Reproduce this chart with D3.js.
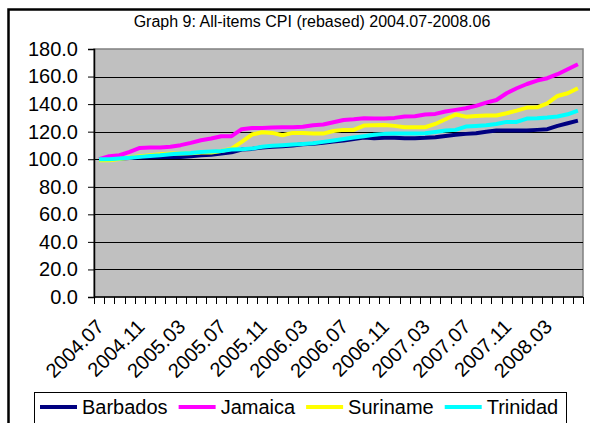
<!DOCTYPE html>
<html>
<head>
<meta charset="utf-8">
<script src="https://cdn.jsdelivr.net/npm/d3@7"></script>
<style>
  html, body { margin: 0; padding: 0; background: #fff; }
  svg { display: block; font-family: "Liberation Sans", Arial, sans-serif; }
</style>
</head>
<body>
<div id="chart"></div>
<script>
// months 2004.07 .. 2008.06
const months = [];
for (let y = 2004, m = 7; months.length < 48; m++) {
    if (m > 12) { m = 1; y++; }
    months.push(y + '.' + String(m).padStart(2, '0'));
}

const yTicks = [0, 20, 40, 60, 80, 100, 120, 140, 160, 180];

const barbados = [100, 100.2, 100.5, 100.8, 101.2, 101.4, 101.6, 101.8, 101.7, 102.2,
    102.9, 103.3, 104.1, 105, 107, 107.5, 108.5, 109, 109.5, 110,
    110.9, 111.2, 112, 112.9, 113.5, 114.7, 115.7, 115.2, 115.5, 115.5,
    115.2, 115.2, 115.5, 116, 116.9, 117.7, 118.4, 118.9, 120, 120.8,
    120.8, 120.8, 120.8, 121.3, 121.8, 124.2, 126.1, 128];
const jamaica = [100, 102.2, 102.9, 105.3, 108.2, 108.5, 108.5, 109, 110.2, 111.9,
    113.8, 115, 116.7, 116.7, 121.8, 122.7, 122.7, 123, 123.2, 123.2,
    123.5, 124.7, 125.2, 126.8, 128.5, 129, 129.7, 129.5, 129.5, 130,
    131, 131.2, 132.4, 132.9, 134.6, 135.8, 137, 138.7, 141.1, 143,
    147.9, 151.5, 154.6, 157.1, 158.8, 161.7, 165.3, 168.9];
const suriname = [99.3, 99.3, 100.2, 101.2, 102.2, 102.9, 103.6, 104.1, 104.1, 104.4,
    104.8, 104.8, 106, 107.7, 112.6, 117.9, 119.6, 119.1, 117.4, 119.1,
    119.1, 118.6, 118.6, 120.5, 121.3, 121.3, 124.4, 124.7, 124.9, 124.2,
    123.2, 123.2, 123.2, 125.6, 129, 132.4, 130.9, 131.4, 131.7, 131.7,
    133.4, 135.3, 137.5, 137.7, 140.6, 145.9, 147.9, 151.5];
const trinidad = [100, 100, 100.5, 101, 101.7, 102.4, 102.9, 103.6, 104.1, 104.6,
    105.3, 105.6, 106, 107, 107.3, 107.7, 109, 109.7, 110.2, 110.6,
    111.1, 111.6, 112.6, 113.6, 114.7, 115.7, 116.7, 117.7, 118.4, 118.6,
    118.6, 118.6, 118.9, 119.8, 120.8, 121.3, 123.7, 124.2, 124.7, 125.6,
    127.1, 127.1, 129.5, 129.7, 130.2, 131, 132.6, 135.3];

const series = [
    { name: 'Barbados', values: barbados, color: '#000080' },
    { name: 'Jamaica', values: jamaica, color: '#FF00FF' },
    { name: 'Suriname', values: suriname, color: '#FFFF00' },
    { name: 'Trinidad', values: trinidad, color: '#00FFFF' }
];

const width = 590, height = 423;
const plot = { left: 94, top: 49, right: 583, bottom: 297 };

const svg = d3.select('#chart').append('svg')
    .attr('width', width)
    .attr('height', height);

svg.append('rect').attr('width', width).attr('height', height).attr('fill', '#fff');

// outer chart border (runs off the right and bottom)
svg.append('rect')
    .attr('x', 8.5).attr('y', 9.5)
    .attr('width', 600).attr('height', 430)
    .attr('fill', 'none')
    .attr('stroke', '#000')
    .attr('stroke-width', 2.5);

svg.append('text')
    .attr('x', 312)
    .attr('y', 27)
    .attr('text-anchor', 'middle')
    .style('font-size', '16px')
    .text('Graph 9: All-items CPI (rebased) 2004.07-2008.06');

const x = d3.scaleBand()
    .domain(months)
    .range([plot.left, plot.right]);

const y = d3.scaleLinear()
    .domain([0, 180])
    .range([plot.bottom, plot.top]);

// plot area
svg.append('rect')
    .attr('x', plot.left).attr('y', plot.top)
    .attr('width', plot.right - plot.left)
    .attr('height', plot.bottom - plot.top)
    .attr('fill', '#C0C0C0')
    .attr('stroke', '#808080')
    .attr('stroke-width', 1.5);

// gridlines
svg.append('g')
    .selectAll('line')
    .data(yTicks.filter(d => d > 0 && d < 180))
    .enter()
    .append('line')
    .attr('x1', plot.left).attr('x2', plot.right)
    .attr('y1', d => Math.round(y(d)) + 0.5)
    .attr('y2', d => Math.round(y(d)) + 0.5)
    .attr('stroke', '#000')
    .attr('stroke-width', 1);

// y axis
const yAxis = svg.append('g')
    .attr('transform', `translate(${plot.left},0)`)
    .call(d3.axisLeft(y).tickValues(yTicks).tickSize(6).tickPadding(10).tickFormat(d3.format('.1f')));
yAxis.select('.domain').attr('stroke', '#000').attr('stroke-width', 1.5);
yAxis.selectAll('.tick line').attr('stroke', '#000');
yAxis.selectAll('text')
    .style('font-size', '20px')
    .style('font-family', '"Liberation Sans", Arial, sans-serif')
    .attr('fill', '#000');

// x axis: ticks between categories
const xAxisG = svg.append('g');
xAxisG.append('line')
    .attr('x1', plot.left).attr('x2', plot.right)
    .attr('y1', plot.bottom).attr('y2', plot.bottom)
    .attr('stroke', '#000').attr('stroke-width', 1.5);
xAxisG.selectAll('.xtick')
    .data(months.concat(['end']))
    .enter()
    .append('line')
    .attr('class', 'xtick')
    .attr('x1', (d, i) => Math.round(plot.left + i * x.bandwidth()) + 0.5)
    .attr('x2', (d, i) => Math.round(plot.left + i * x.bandwidth()) + 0.5)
    .attr('y1', plot.bottom)
    .attr('y2', plot.bottom + 7)
    .attr('stroke', '#000');

xAxisG.selectAll('.xlabel')
    .data(months.filter((d, i) => i % 4 === 0))
    .enter()
    .append('text')
    .attr('class', 'xlabel')
    .attr('text-anchor', 'end')
    .attr('transform', d => `translate(${x(d) + x.bandwidth() / 2 + 6},${plot.bottom + 31}) rotate(-45)`)
    .style('font-size', '20px')
    .text(d => d);

// lines
const line = d3.line()
    .x((d, i) => x(months[i]) + x.bandwidth() / 2)
    .y(d => y(d));

svg.append('g')
    .selectAll('path')
    .data(series)
    .enter()
    .append('path')
    .attr('fill', 'none')
    .attr('stroke', d => d.color)
    .attr('stroke-width', 4)
    .attr('stroke-linejoin', 'round')
    .attr('d', d => line(d.values));

// legend
const legend = svg.append('g');
legend.append('rect')
    .attr('x', 34.5).attr('y', 392.5)
    .attr('width', 532).attr('height', 40)
    .attr('fill', '#fff')
    .attr('stroke', '#000')
    .attr('stroke-width', 1);

let lx = 40;
series.forEach(s => {
    legend.append('line')
        .attr('x1', lx).attr('x2', lx + 37)
        .attr('y1', 407).attr('y2', 407)
        .attr('stroke', s.color)
        .attr('stroke-width', 4);
    const t = legend.append('text')
        .attr('x', lx + 42)
        .attr('y', 414)
        .style('font-size', '20px')
        .text(s.name);
    lx += 42 + t.node().getComputedTextLength() + 11;
});
</script>
</body>
</html>
